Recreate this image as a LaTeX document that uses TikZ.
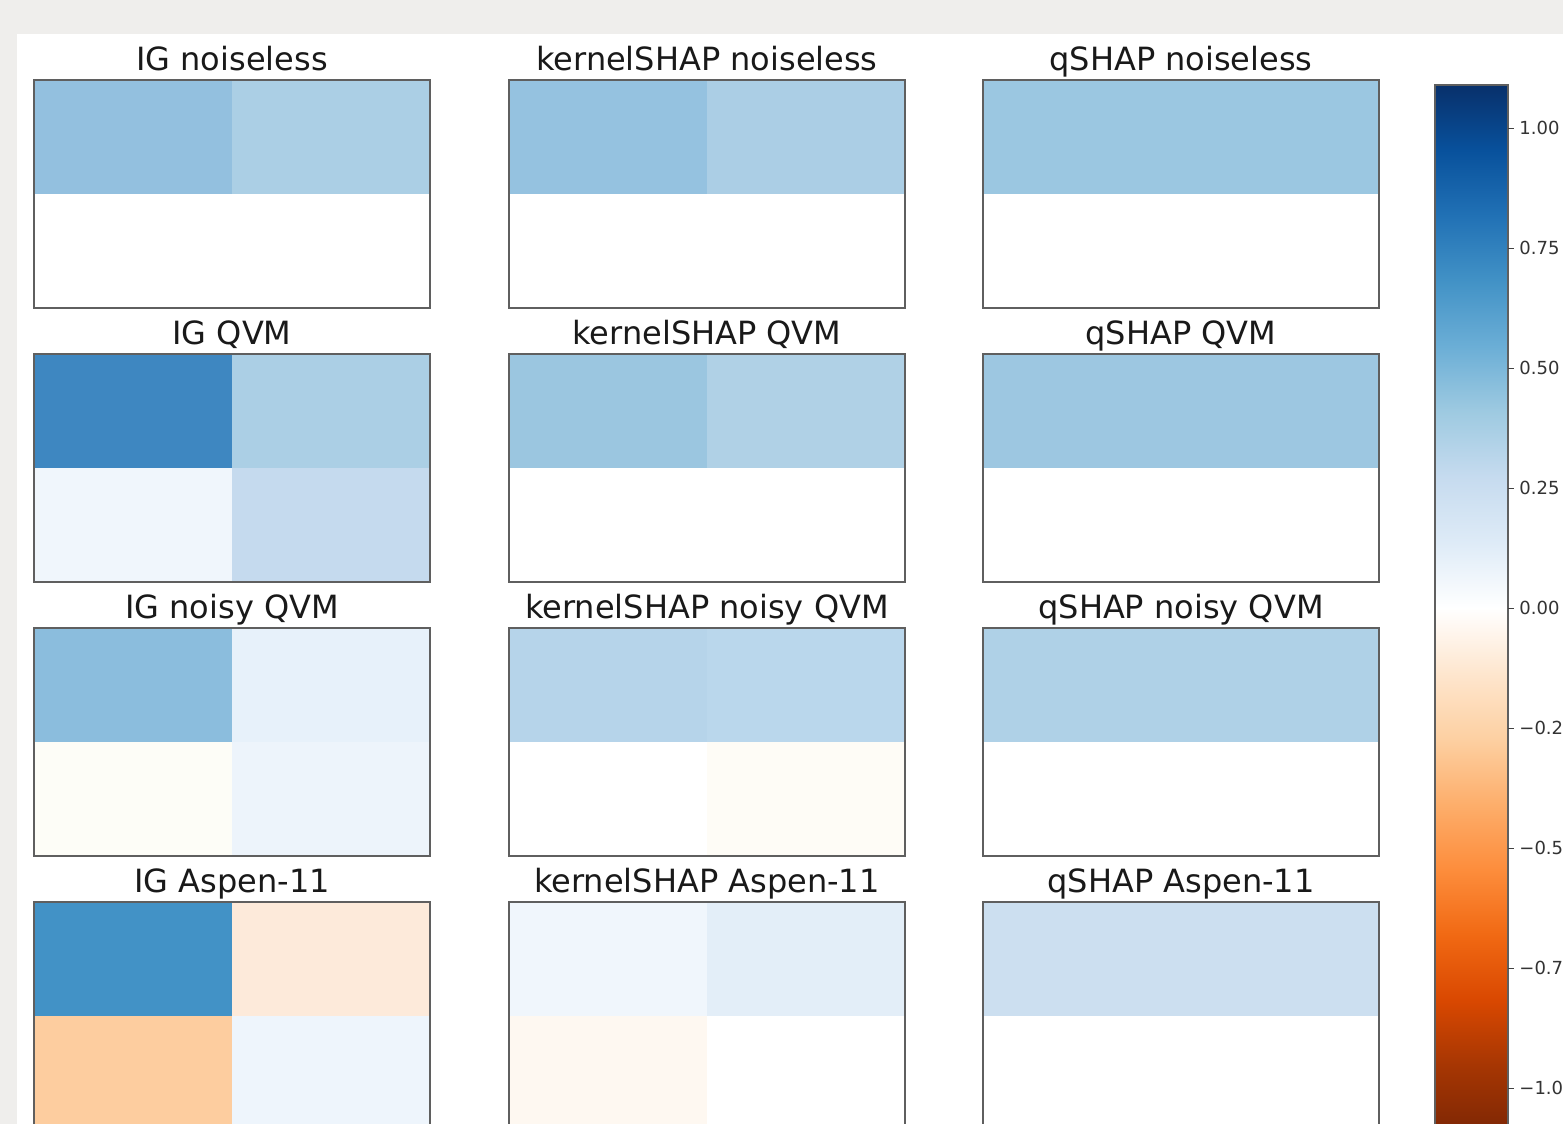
\documentclass[tikz,border=0pt]{standalone}
\usepackage{fontspec}
\setmainfont{DejaVu Sans}
\usetikzlibrary{calc}

% page and frame colours
\definecolor{pagegray}{HTML}{EFEEEC}
\definecolor{framegray}{HTML}{5F5F5F}
% heat map cells
\definecolor{ignlA}{HTML}{93C0DF}\definecolor{ignlB}{HTML}{ABCFE5}
\definecolor{ksnlA}{HTML}{95C2E0}\definecolor{ksnlB}{HTML}{ABCEE5}
\definecolor{qsnl}{HTML}{9BC7E1}
\definecolor{igqvA}{HTML}{3E87C1}\definecolor{igqvB}{HTML}{ABCFE5}
\definecolor{igqvC}{HTML}{F0F6FC}\definecolor{igqvD}{HTML}{C5DAEE}
\definecolor{ksqvA}{HTML}{9BC6E0}\definecolor{ksqvB}{HTML}{B0D1E6}
\definecolor{qsqv}{HTML}{9DC7E1}
\definecolor{ignyA}{HTML}{8BBDDD}\definecolor{ignyB}{HTML}{E7F1FA}
\definecolor{ignyC}{HTML}{FDFDF7}\definecolor{ignyD}{HTML}{EDF4FB}
\definecolor{ksnyA}{HTML}{B6D4EA}\definecolor{ksnyB}{HTML}{BAD7EC}
\definecolor{ksnyD}{HTML}{FEFCF6}
\definecolor{qsny}{HTML}{AFD1E7}
\definecolor{igasA}{HTML}{4292C6}\definecolor{igasB}{HTML}{FDEADA}
\definecolor{igasC}{HTML}{FDCD9F}\definecolor{igasD}{HTML}{EEF5FC}
\definecolor{ksasA}{HTML}{F0F6FC}\definecolor{ksasB}{HTML}{E3EEF8}
\definecolor{ksasC}{HTML}{FEF8F1}
\definecolor{qsas}{HTML}{CCDFF0}
% colour bar (Oranges below zero, Blues above)
\definecolor{or9}{HTML}{7F2704}\definecolor{or8}{HTML}{A63603}
\definecolor{or7}{HTML}{D94801}\definecolor{or6}{HTML}{F16913}
\definecolor{or5}{HTML}{FD8D3C}\definecolor{or4}{HTML}{FDAE6B}
\definecolor{or3}{HTML}{FDD0A2}\definecolor{or2}{HTML}{FEE6CE}
\definecolor{bl2}{HTML}{DEEBF7}\definecolor{bl3}{HTML}{C6DBEF}
\definecolor{bl4}{HTML}{9ECAE1}\definecolor{bl5}{HTML}{6BAED6}
\definecolor{bl6}{HTML}{4292C6}\definecolor{bl7}{HTML}{2171B5}
\definecolor{bl8}{HTML}{08519C}\definecolor{bl9}{HTML}{08306B}
\pgfdeclareverticalshading{cbarshade}{100bp}{color(0bp)=(or9); color(25bp)=(or9);
  color(28.125bp)=(or8); color(31.25bp)=(or7); color(34.375bp)=(or6);
  color(37.5bp)=(or5); color(40.625bp)=(or4); color(43.75bp)=(or3);
  color(46.875bp)=(or2); color(50bp)=(white); color(53.125bp)=(bl2);
  color(56.25bp)=(bl3); color(59.375bp)=(bl4); color(62.5bp)=(bl5);
  color(65.625bp)=(bl6); color(68.75bp)=(bl7); color(71.875bp)=(bl8);
  color(75bp)=(bl9); color(100bp)=(bl9)}

\tikzset{
  paneltitle/.style={anchor=base, inner sep=0pt, text=black!90,
    font=\fontsize{16}{19}\selectfont},
  panelframe/.style={draw=framegray, line width=0.75pt},
  cbtick/.style={draw=black!75, line width=0.5pt},
  ticklabel/.style={anchor=west, inner sep=0pt, text=black!80,
    font=\fontsize{9}{11}\selectfont}
}

% one 2x2 heat map: (x,y) of top left, name, title, four cell colours
\newcommand\heatpanel[8]{%
  \fill[#4] (#1,#2) rectangle ++(198,114);
  \fill[#5] (#1+198,#2) rectangle ++(198,114);
  \fill[#6] (#1,#2+114) rectangle ++(198,114);
  \fill[#7] (#1+198,#2+114) rectangle ++(198,114);
  \draw[panelframe] (#1,#2) rectangle ++(396,228);
  \node[paneltitle] (#8) at (#1+198,#2-10) {#3};
}

\begin{document}
\begin{tikzpicture}[x=0.5pt, y=-0.5pt]
  \useasboundingbox (0,0) rectangle (1563,1124);
  \clip (0,0) rectangle (1563,1124);
  \fill[pagegray] (0,0) rectangle (1563,1124);
  \fill[white] (17,34) rectangle (1563,1124);

  %%%%% HEAT MAPS %%%%%
  \heatpanel{34}{80}{IG noiseless}{ignlA}{ignlB}{white}{white}{ignl}
  \heatpanel{509}{80}{kernelSHAP noiseless}{ksnlA}{ksnlB}{white}{white}{ksnl}
  \heatpanel{983}{80}{qSHAP noiseless}{qsnl}{qsnl}{white}{white}{qsnl}

  \heatpanel{34}{354}{IG QVM}{igqvA}{igqvB}{igqvC}{igqvD}{igqv}
  \heatpanel{509}{354}{kernelSHAP QVM}{ksqvA}{ksqvB}{white}{white}{ksqv}
  \heatpanel{983}{354}{qSHAP QVM}{qsqv}{qsqv}{white}{white}{qsqv}

  \heatpanel{34}{628}{IG noisy QVM}{ignyA}{ignyB}{ignyC}{ignyD}{igny}
  \heatpanel{509}{628}{kernelSHAP noisy QVM}{ksnyA}{ksnyB}{white}{ksnyD}{ksny}
  \heatpanel{983}{628}{qSHAP noisy QVM}{qsny}{qsny}{white}{white}{qsny}

  \heatpanel{34}{902}{IG Aspen-11}{igasA}{igasB}{igasC}{igasD}{igas}
  \heatpanel{509}{902}{kernelSHAP Aspen-11}{ksasA}{ksasB}{ksasC}{white}{ksas}
  \heatpanel{983}{902}{qSHAP Aspen-11}{qsas}{qsas}{white}{white}{qsas}

  %%%%% COLOUR BAR %%%%%
  \shade[shading=cbarshade] (1435,85) rectangle (1508,1131);
  \draw[panelframe] (1435,85) rectangle (1508,1131);
  \foreach \v/\lab [count=\i] in {1/1.00, 0.75/0.75, 0.5/0.50, 0.25/0.25, 0/0.00,
      -0.25/{−0.25}, -0.5/{−0.50}, -0.75/{−0.75}, -1/{−1.00}}{
    \draw[cbtick] (1508,608-480*\v) -- ++(6,0);
    \node[ticklabel] (tick\i) at (1519,608-480*\v) {\lab};
  }
\end{tikzpicture}
\end{document}
